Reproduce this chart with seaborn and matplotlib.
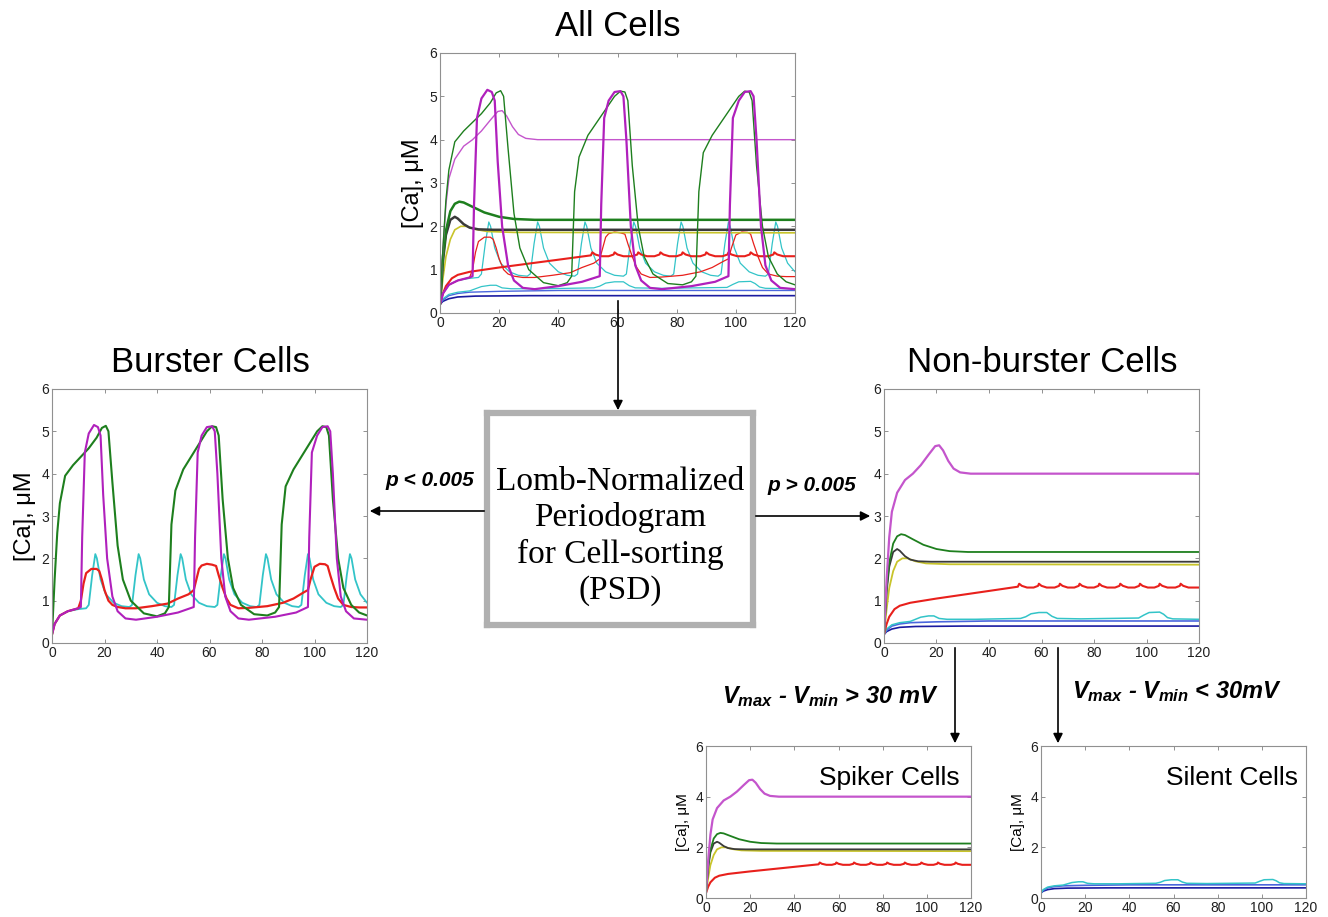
import numpy as np
import pandas as pd
import matplotlib.pyplot as plt
import seaborn as sns
from matplotlib.patches import FancyArrowPatch

# ---- traces: (time, [Ca] uM) ----
burst_green = [(0, 0.2), (1, 1.5), (2, 2.6), (3, 3.3), (5, 3.95), (8, 4.2), (11, 4.4), (14, 4.6),
               (17, 4.85), (19, 5.08), (20.5, 5.13), (21.5, 5.0), (23, 3.8), (25, 2.3), (27, 1.5),
               (30, 1.0), (35, 0.7), (40, 0.63), (43, 0.7), (44.5, 0.85), (45.5, 2.8), (47, 3.6),
               (50, 4.1), (53, 4.4), (56, 4.7), (59, 5.0), (61, 5.12), (62.5, 5.1), (63.5, 4.9),
               (65, 3.4), (67, 2.0), (69, 1.3), (72, 0.9), (77, 0.68), (82, 0.65), (85, 0.72),
               (86.5, 0.85), (87.5, 2.8), (89, 3.7), (92, 4.1), (95, 4.4), (98, 4.7), (101, 5.0),
               (103, 5.12), (104.5, 5.1), (105.5, 4.9), (107, 3.4), (109, 2.0), (111, 1.3),
               (114, 0.9), (117, 0.72), (120, 0.65)]
burst_magenta = [(0, 0.2), (1, 0.45), (3, 0.65), (6, 0.75), (10, 0.82), (11, 0.85), (11.5, 2.5),
                 (12.5, 4.5), (14, 4.95), (16, 5.15), (17.5, 5.1), (18.5, 4.9), (19.5, 3.5),
                 (21, 2.0), (23, 1.1), (25, 0.75), (28, 0.58), (32, 0.55), (40, 0.62), (48, 0.72),
                 (54, 0.85), (54.5, 2.5), (55.5, 4.5), (57, 4.9), (59, 5.1), (61, 5.12), (62, 5.0),
                 (63, 4.0), (64.5, 2.0), (66, 1.1), (68, 0.75), (71, 0.58), (75, 0.55), (85, 0.62),
                 (93, 0.72), (97.5, 0.85), (98, 2.5), (99, 4.5), (101, 4.9), (103, 5.1), (105, 5.12),
                 (106, 5.0), (107, 4.0), (108.5, 2.0), (110, 1.1), (112, 0.75), (115, 0.58), (120, 0.55)]
burst_cyan = [(0, 0.2), (1, 0.45), (3, 0.65), (6, 0.75), (10, 0.8), (13, 0.82), (14, 0.9),
              (15.3, 1.6), (16.5, 2.1), (17.1, 2.0), (18.5, 1.5), (20.5, 1.15), (23.5, 0.95),
              (26.5, 0.87), (29.5, 0.85), (30.5, 0.9), (31.8, 1.6), (33, 2.1), (33.6, 2.0),
              (35, 1.5), (37, 1.15), (40, 0.95), (43, 0.87), (45.5, 0.85), (46.5, 0.9), (47.8, 1.6),
              (49, 2.1), (49.6, 2.0), (51, 1.5), (53, 1.15), (56, 0.95), (59, 0.87), (62, 0.85),
              (63, 0.9), (64.3, 1.6), (65.5, 2.1), (66.1, 2.0), (67.5, 1.5), (69.5, 1.15),
              (72.5, 0.95), (75.5, 0.87), (78, 0.85), (79, 0.9), (80.3, 1.6), (81.5, 2.1),
              (82.1, 2.0), (83.5, 1.5), (85.5, 1.15), (88.5, 0.95), (91.5, 0.87), (94, 0.85),
              (95, 0.9), (96.3, 1.6), (97.5, 2.1), (98.1, 2.0), (99.5, 1.5), (101.5, 1.15),
              (104.5, 0.95), (107.5, 0.87), (110, 0.85), (111, 0.9), (112.3, 1.6), (113.5, 2.1),
              (114.1, 2.0), (115.5, 1.5), (117.5, 1.15), (120, 0.95)]
burst_red = [(0, 0.2), (1, 0.45), (3, 0.65), (6, 0.75), (10, 0.82), (11, 1.0), (12, 1.4), (13, 1.65),
             (15, 1.75), (17, 1.75), (18, 1.7), (19, 1.5), (20, 1.25), (21.5, 1.0), (23, 0.9),
             (25, 0.85), (28, 0.82), (32, 0.82), (38, 0.87), (44, 0.93), (48, 1.05), (52, 1.15),
             (54, 1.25), (55, 1.5), (56, 1.75), (57, 1.83), (59, 1.87), (61, 1.85), (62.5, 1.82),
             (63.5, 1.6), (65, 1.3), (66.5, 1.05), (68, 0.9), (71, 0.82), (75, 0.83), (82, 0.87),
             (88, 0.95), (92, 1.05), (96, 1.2), (97.5, 1.25), (98.5, 1.5), (100, 1.8), (102, 1.87),
             (104, 1.86), (105, 1.82), (106, 1.6), (107.5, 1.3), (109, 1.05), (111, 0.9),
             (114, 0.85), (117, 0.84), (120, 0.84)]

spike_magenta = [(0, 0.2), (1, 1.5), (2, 2.5), (3, 3.1), (5, 3.55), (8, 3.85), (11, 4.0), (14, 4.2),
                 (17, 4.45), (19.5, 4.65), (21, 4.67), (22.5, 4.55), (24.5, 4.3), (26.5, 4.12),
                 (29, 4.03), (33, 4.0), (120, 4.0)]
spike_green = [(0, 0.2), (1, 1.3), (2, 1.9), (3.5, 2.35), (5, 2.52), (6.5, 2.57), (8, 2.55),
               (11, 2.45), (15, 2.32), (20, 2.22), (25, 2.17), (32, 2.15), (120, 2.15)]
spike_black = [(0, 0.2), (1, 1.2), (2, 1.8), (3.5, 2.15), (5, 2.22), (6, 2.18), (8, 2.05),
               (10, 1.97), (13, 1.93), (18, 1.92), (120, 1.92)]
spike_yellow = [(0, 0.2), (1, 0.8), (2, 1.3), (3.5, 1.7), (5, 1.92), (7, 2.0), (9, 2.0), (12, 1.93),
                (16, 1.88), (25, 1.86), (120, 1.85)]
spike_red = [(0, 0.2), (1, 0.45), (2, 0.62), (4, 0.8), (6, 0.88), (10, 0.95), (20, 1.05), (30, 1.14),
             (40, 1.23), (51, 1.33), (51.5, 1.4), (52.5, 1.35), (54.5, 1.31), (57, 1.31),
             (58.7, 1.35), (59, 1.4), (60, 1.35), (62, 1.31), (65, 1.31), (66.7, 1.35), (67, 1.4),
             (68, 1.35), (70, 1.31), (72.5, 1.31), (74.2, 1.35), (74.5, 1.4), (75.5, 1.35),
             (77.5, 1.31), (80, 1.31), (81.7, 1.35), (82, 1.4), (83, 1.35), (85, 1.31), (88, 1.31),
             (89.7, 1.35), (90, 1.4), (91, 1.35), (93, 1.31), (95.5, 1.31), (97.2, 1.35),
             (97.5, 1.4), (98.5, 1.35), (100.5, 1.31), (103, 1.31), (104.7, 1.35), (105, 1.4),
             (106, 1.35), (108, 1.31), (111, 1.31), (112.7, 1.35), (113, 1.4), (114, 1.35),
             (116, 1.31), (120, 1.31)]

silent_cyan = [(0, 0.2), (1, 0.33), (3, 0.43), (6, 0.48), (10, 0.51), (12, 0.56), (14, 0.61),
               (17, 0.64), (19, 0.64), (21, 0.58), (24, 0.56), (35, 0.56), (52, 0.58), (54, 0.62),
               (56, 0.69), (59, 0.72), (62, 0.72), (64, 0.63), (66, 0.58), (75, 0.57), (97, 0.59),
               (99, 0.66), (101, 0.72), (105, 0.73), (106.5, 0.68), (108, 0.6), (110, 0.57),
               (120, 0.56)]
silent_blue = [(0, 0.2), (1, 0.3), (3, 0.4), (6, 0.45), (10, 0.48), (20, 0.5), (40, 0.52), (120, 0.52)]
silent_navy = [(0, 0.2), (1, 0.27), (3, 0.33), (6, 0.37), (12, 0.39), (30, 0.4), (120, 0.4)]

GREEN, MAGENTA, CYAN, RED = "#1e7f1e", "#b020bc", "#33c4c8", "#e8201c"
PINK, YELLOW, BLACK, BLUE, NAVY = "#c455cc", "#c8c42a", "#3a3a3a", "#4a66dd", "#1a1aa0"

burster = [(burst_cyan, CYAN, 1.3), (burst_red, RED, 1.6), (burst_green, GREEN, 1.5),
           (burst_magenta, MAGENTA, 1.5)]
spiker = [(spike_red, RED, 1.5), (spike_yellow, YELLOW, 1.3), (spike_black, BLACK, 1.3),
          (spike_green, GREEN, 1.3), (spike_magenta, PINK, 1.6)]
silent = [(silent_navy, NAVY, 1.2), (silent_blue, BLUE, 1.2), (silent_cyan, CYAN, 1.1)]

# the overview panel uses thinner lines for some of the cells
all_cells = [(silent_navy, NAVY, 1.2), (silent_blue, BLUE, 1.0), (silent_cyan, CYAN, 0.9),
             (burst_cyan, CYAN, 0.9), (burst_red, RED, 0.9), (spike_red, RED, 1.5),
             (spike_yellow, YELLOW, 1.2), (spike_black, BLACK, 1.8), (spike_green, GREEN, 1.8),
             (spike_magenta, PINK, 1.0), (burst_green, GREEN, 1.0), (burst_magenta, MAGENTA, 1.6)]

sns.set_style("ticks")
plt.rcParams["font.family"] = ["Liberation Sans", "DejaVu Sans"]
plt.rcParams["text.color"] = "black"
plt.rcParams["mathtext.fontset"] = "custom"
plt.rcParams["mathtext.it"] = "Liberation Sans:italic:bold"
plt.rcParams["mathtext.rm"] = "Liberation Sans:italic:bold"
plt.rcParams["mathtext.bf"] = "Liberation Sans:italic:bold"

W, H = 1328, 917
fig = plt.figure(figsize=(W / 100, H / 100), dpi=100)


def px_box(l, t, r, b):
    return [l / W, 1 - b / H, (r - l) / W, (b - t) / H]


def px(x, y):
    return (x / W, 1 - y / H)


def panel(rect, traces, ystep=1, ylabel=True, lab_size=17, tick_size=10):
    ax = fig.add_axes(rect)
    for pts, color, lw in traces:
        df = pd.DataFrame(pts, columns=["t", "ca"])
        sns.lineplot(data=df, x="t", y="ca", ax=ax, color=color, linewidth=lw,
                     estimator=None, sort=False)
    ax.set_xlim(0, 120)
    ax.set_ylim(0, 6)
    ax.set_xticks(np.arange(0, 121, 20))
    ax.set_yticks(np.arange(0, 6.1, ystep))
    ax.tick_params(direction="in", length=3, width=0.7, top=True, right=True,
                   labelsize=tick_size, colors="#909090", labelcolor="#202020", pad=2)
    for s in ax.spines.values():
        s.set_color("#909090")
        s.set_linewidth(0.8)
    ax.set_xlabel("")
    ax.set_ylabel("[Ca], μM" if ylabel else "", fontsize=lab_size, labelpad=4, color="black")
    return ax


panel(px_box(440, 53, 795, 313), all_cells)
panel(px_box(52, 389, 367, 643), burster)
panel(px_box(884, 389, 1199, 643), silent + spiker, ylabel=False)
ax_sp = panel(px_box(706, 746, 971, 898), spiker, ystep=2, lab_size=11)
ax_si = panel(px_box(1041, 746, 1306, 898), silent, ystep=2, lab_size=11)
ax_sp.text(0.958, 0.79, "Spiker Cells", transform=ax_sp.transAxes, ha="right", va="center",
           fontsize=19)
ax_si.text(0.968, 0.79, "Silent Cells", transform=ax_si.transAxes, ha="right", va="center",
           fontsize=19)

fig.text(*px(618, 26), "All Cells", ha="center", va="center", fontsize=25)
fig.text(*px(210, 362), "Burster Cells", ha="center", va="center", fontsize=25)
fig.text(*px(1042, 362), "Non-burster Cells", ha="center", va="center", fontsize=25)

# central sorting box
box = fig.add_axes(px_box(487, 413, 753, 625))
box.set_xticks([])
box.set_yticks([])
for s in box.spines.values():
    s.set_color("#b0b0b0")
    s.set_linewidth(4.5)
box.text(0.5, 0.42, "Lomb-Normalized\nPeriodogram\nfor Cell-sorting\n(PSD)", ha="center",
         va="center", fontsize=24, family=["Liberation Serif", "DejaVu Serif"],
         linespacing=1.22, transform=box.transAxes)

for a, b in [((618, 298), (618, 413)), ((487, 511), (367, 511)), ((753, 516), (873, 516)),
             ((955, 645), (955, 746)), ((1058, 645), (1058, 746))]:
    fig.add_artist(FancyArrowPatch(px(*a), px(*b), transform=fig.transFigure,
                                   arrowstyle="-|>", mutation_scale=14, color="black", lw=1.2))

fig.text(*px(430, 480), "p < 0.005", ha="center", va="center", fontsize=15,
         fontweight="bold", fontstyle="italic")
fig.text(*px(812, 486), "p > 0.005", ha="center", va="center", fontsize=15,
         fontweight="bold", fontstyle="italic")
fig.text(*px(830, 697), r"$V_{max}$ - $V_{min}$ > 30 mV", ha="center", va="center",
         fontsize=17, fontweight="bold", fontstyle="italic")
fig.text(*px(1177, 692), r"$V_{max}$ - $V_{min}$ < 30mV", ha="center", va="center",
         fontsize=17, fontweight="bold", fontstyle="italic")

fig.savefig("out.png", dpi=100)
